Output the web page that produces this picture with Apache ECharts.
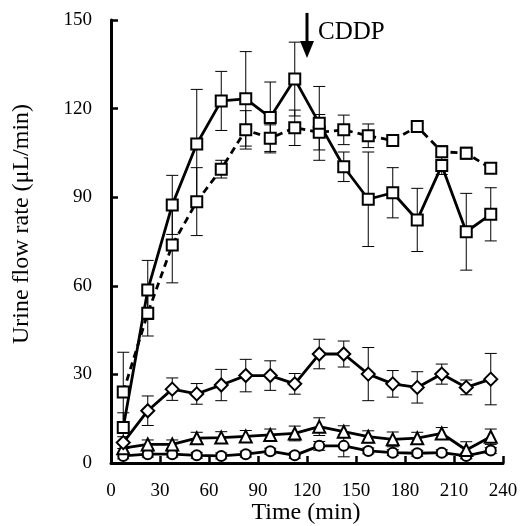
<!DOCTYPE html>
<html><head><meta charset="utf-8">
<script src="https://cdn.jsdelivr.net/npm/echarts@6/dist/echarts.min.js"></script>
<style>html,body{margin:0;padding:0;background:#fff}#c{width:521px;height:526px}</style>
</head><body><div id="c"></div>
<script>
var times = [7.5,22.5,37.5,52.5,67.5,82.5,97.5,112.5,127.5,142.5,157.5,172.5,187.5,202.5,217.5,232.5];
var xTicks = [0,30,60,90,120,150,180,210,240];
var yTicks = [0,30,60,90,120,150];
var sqSolid    = [12, 58.6, 87.4, 108, 122.6, 123.3, 117, 130, 115, 100.3, 89.3, 91.5, 82.3, 100.7, 78.3, 84.2];
var sqSolidErr = [5, 10, 10, 18.5, 10, 16, 12, 12.5, 12.5, 5, 16, 8.5, 10.7, 3, 13, 9];
var sqDash     = [24, 50.7, 73.8, 88.5, 99.5, 112.8, 110, 113.5, 112, 112.8, 110.8, 109.2, 113.9, 105.4, 104.9, 99.8];
var sqDashErr  = [13.5, 7.7, 12.8, 11.5, 3, 6.5, 4.5, 6, 6, 5, 4, 1.5, 1, 2, 2, 1.5];
var diamond    = [6.9, 17.7, 25, 23.4, 26.4, 29.6, 29.6, 26.8, 36.9, 36.9, 30.1, 26.8, 25.6, 30.1, 25.6, 28.4];
var diamondErr = [2, 5, 3.8, 3.5, 5.3, 5.5, 5, 3.5, 5, 4.4, 9, 4.5, 5.3, 3.4, 2.5, 8.7];
var triangle   = [5, 6.3, 6.3, 8.4, 8.6, 9, 9.5, 10, 12.3, 10.6, 8.9, 8, 8.4, 10, 4.4, 8.9];
var triangleErr= [1.5, 1.5, 1.5, 2, 2, 2, 2, 2.5, 3, 2, 2, 2.5, 2, 2, 2.8, 2.6];
var circle     = [2.4, 3, 3, 2.6, 2.4, 3, 4, 2.6, 5.8, 5.8, 4.1, 3.5, 3.3, 3.5, 2.4, 4.2];
var circleErr  = [1, 1, 1, 1, 1, 1, 1, 1, 1.5, 3.7, 1, 1, 1, 1, 1, 1];
var cddpTime = 120, cddpFrom = 152.4, cddpTo = 137.1, cddpLabel = 'CDDP';
var xTitle = 'Time (min)', yTitle = 'Urine flow rate (μL/min)';

var FONT = '"Liberation Serif","Times New Roman",serif';
function pts(v){ return times.map(function(t,i){ return [t, v[i]]; }); }
function errData(v,e){ return times.map(function(t,i){ return [t, v[i]-e[i], v[i]+e[i]]; }); }
function errSeries(v,e){
  return {type:'custom', data: errData(v,e), z:1, silent:true,
    renderItem:function(params, api){
      var x=api.value(0), lo=api.coord([x,api.value(1)]), hi=api.coord([x,api.value(2)]);
      var w=6, st={stroke:'#000', lineWidth:1};
      return {type:'group', children:[
        {type:'line', shape:{x1:lo[0],y1:lo[1],x2:hi[0],y2:hi[1]}, style:st},
        {type:'line', shape:{x1:lo[0]-w,y1:lo[1],x2:lo[0]+w,y2:lo[1]}, style:st},
        {type:'line', shape:{x1:hi[0]-w,y1:hi[1],x2:hi[0]+w,y2:hi[1]}, style:st}
      ]};
    }};
}
function lineSeries(v, sym, size, dashed){
  return {type:'line', data: pts(v), symbol: sym, symbolSize: size, showAllSymbol:true, z:3,
    lineStyle:{color:'#000', width:2.8, type: dashed ? [7,5] : 'solid'},
    itemStyle:{color:'#fff', borderColor:'#000', borderWidth:2},
    emphasis:{disabled:true}, animation:false};
}
var chart = echarts.init(document.getElementById('c'));
chart.setOption({
  animation:false,
  grid:{left:111, right:18, top:20, bottom:63},
  graphic:[
    {type:'text', x:306, y:513, style:{text:xTitle, font:'24px '+FONT, fill:'#000', align:'center', verticalAlign:'middle'}},
    {type:'text', x:22, y:224, rotation:Math.PI/2, style:{text:yTitle, font:'24px '+FONT, fill:'#000', align:'center', verticalAlign:'middle'}}
  ],
  xAxis:{type:'value', min:0, max:240, interval:30,
    axisLine:{lineStyle:{color:'#000', width:3}},
    axisTick:{inside:true, length:7, lineStyle:{color:'#000', width:2.5}},
    axisLabel:{fontFamily:FONT, fontSize:19, color:'#000', margin:19},
    splitLine:{show:false}},
  yAxis:{type:'value', min:0, max:150, interval:30,
    axisLine:{show:true, lineStyle:{color:'#000', width:3}},
    axisTick:{show:true, inside:true, length:7, lineStyle:{color:'#000', width:2.5}},
    axisLabel:{fontFamily:FONT, fontSize:19, color:'#000', margin:19},
    splitLine:{show:false}},
  series:[
    errSeries(sqSolid, sqSolidErr), errSeries(sqDash, sqDashErr), errSeries(diamond, diamondErr),
    errSeries(triangle, triangleErr), errSeries(circle, circleErr),
    lineSeries(circle, 'circle', 10, false),
    lineSeries(triangle, 'triangle', 12, false),
    lineSeries(diamond, 'diamond', 13, false),
    lineSeries(sqDash, 'rect', 11, true),
    lineSeries(sqSolid, 'rect', 11, false),
    {type:'custom', data:[[cddpTime, cddpFrom, cddpTo]], z:5, silent:true, clip:false,
      renderItem:function(params, api){
        var a=api.coord([api.value(0), api.value(1)]), b=api.coord([api.value(0), api.value(2)]);
        var h=17;
        return {type:'group', children:[
          {type:'line', shape:{x1:a[0],y1:a[1],x2:b[0],y2:b[1]-h+2}, style:{stroke:'#000', lineWidth:3}},
          {type:'polygon', shape:{points:[[b[0]-7,b[1]-h],[b[0]+7,b[1]-h],[b[0],b[1]]]}, style:{fill:'#000'}},
          {type:'text', x:a[0]+11, y:(a[1]+b[1])/2-3, style:{text:cddpLabel, font:'25px '+FONT, fill:'#000', verticalAlign:'middle'}}
        ]};
      }}
  ]
});
</script></body></html>
